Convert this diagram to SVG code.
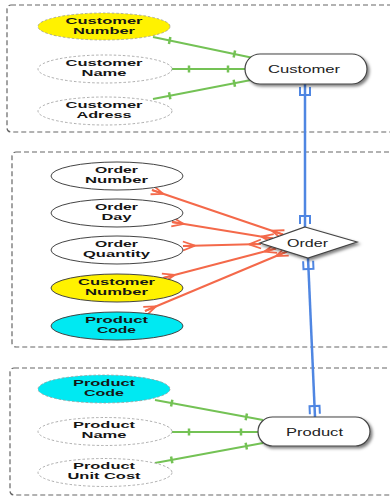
<svg xmlns="http://www.w3.org/2000/svg" width="390" height="497" viewBox="0 0 390 497">
<style>
.box{fill:none;stroke:#666;stroke-width:1.2;stroke-dasharray:5 3}
.attr{font-family:"Liberation Sans",Arial,sans-serif;font-weight:bold;font-size:9.5px;fill:#151515;text-anchor:middle}
.ent{font-family:"Liberation Sans",Arial,sans-serif;font-size:11px;fill:#222;text-anchor:middle}
.dash{fill:#fff;stroke:#999;stroke-width:0.8;stroke-dasharray:2.5 2}
.solid{fill:#fff;stroke:#444;stroke-width:1}
.yel{fill:#fff200}
.cyan{fill:#00e9f2}
.entity{fill:#fff;stroke:#444;stroke-width:1.2;filter:url(#sh)}
.g{stroke:#74c255;stroke-width:2;fill:none;marker-start:url(#gt);marker-end:url(#gt)}
.r{stroke:#f4694a;stroke-width:2;fill:none;marker-start:url(#crow);marker-end:url(#crow)}
.b{stroke:#4f86e2;stroke-width:2.5;fill:none;marker-start:url(#tri);marker-end:url(#tri)}
</style>
<defs>
<filter id="sh" x="-20%" y="-30%" width="140%" height="170%">
<feDropShadow dx="2" dy="2" stdDeviation="1.5" flood-color="#000" flood-opacity="0.5"/>
</filter>
<marker id="gt" markerUnits="userSpaceOnUse" orient="auto-start-reverse" refX="0" refY="0" markerWidth="1" markerHeight="1" overflow="visible">
<path d="M-17,-3.5V3.5" stroke="#74c255" stroke-width="2.5" fill="none"/>
</marker>
<marker id="crow" markerUnits="userSpaceOnUse" orient="auto-start-reverse" refX="0" refY="0" markerWidth="1" markerHeight="1" overflow="visible">
<path d="M-12,0L0,-4.5M-12,0L0,4.5M-12,0L0,0" stroke="#f4694a" stroke-width="1.8" fill="none"/>
</marker>
<marker id="tri" markerUnits="userSpaceOnUse" orient="auto-start-reverse" refX="0" refY="0" markerWidth="1" markerHeight="1" overflow="visible">
<path d="M-3,-5H-11V5H-3" stroke="#4f86e2" stroke-width="2" fill="none"/>
</marker>
</defs>

<g id="groups">
<rect class="box" x="7" y="5" width="390" height="127" rx="4"/>
<rect class="box" x="12" y="152" width="390" height="195" rx="4"/>
<rect class="box" x="10" y="368" width="390" height="127" rx="4"/>
</g>

<g id="connectors">
<path class="g" d="M153,37L251,57.5"/>
<path class="g" d="M172,69L245,69"/>
<path class="g" d="M153,99L251,80"/>
<path class="g" d="M155,400L263,420"/>
<path class="g" d="M172,432L258,432"/>
<path class="g" d="M155,463L263,443"/>
<path class="r" d="M152,190L283,234.5"/>
<path class="r" d="M172,222L273,238.5"/>
<path class="r" d="M183,246L261,244"/>
<path class="r" d="M163,278L276,248.5"/>
<path class="r" d="M145,311L287,251.5"/>
<path class="b" d="M305,84L305,227"/>
<path class="b" d="M308,258L315,417"/>
</g>

<g id="customer-number-1">
<ellipse class="dash yel" cx="104" cy="26.5" rx="66" ry="13.5"/>
<text class="attr" y="23.5"><tspan x="104" textLength="77" lengthAdjust="spacingAndGlyphs">Customer</tspan><tspan x="104" dy="10" textLength="62" lengthAdjust="spacingAndGlyphs">Number</tspan></text>
</g>
<g id="customer-name">
<ellipse class="dash" cx="105" cy="69" rx="67" ry="14"/>
<text class="attr" y="65.5"><tspan x="104" textLength="77" lengthAdjust="spacingAndGlyphs">Customer</tspan><tspan x="104" dy="10" textLength="45" lengthAdjust="spacingAndGlyphs">Name</tspan></text>
</g>
<g id="customer-adress">
<ellipse class="dash" cx="105" cy="111" rx="67" ry="14"/>
<text class="attr" y="107.5"><tspan x="104" textLength="77" lengthAdjust="spacingAndGlyphs">Customer</tspan><tspan x="104" dy="10" textLength="55" lengthAdjust="spacingAndGlyphs">Adress</tspan></text>
</g>
<g id="customer">
<rect class="entity" x="245" y="54" width="122" height="30" rx="15"/>
<text class="ent" x="304" y="73" textLength="72" lengthAdjust="spacingAndGlyphs">Customer</text>
</g>

<g id="order-number">
<ellipse class="solid" cx="117" cy="176" rx="66" ry="14"/>
<text class="attr" y="172.5"><tspan x="116.5" textLength="43" lengthAdjust="spacingAndGlyphs">Order</tspan><tspan x="116.5" dy="10" textLength="63" lengthAdjust="spacingAndGlyphs">Number</tspan></text>
</g>
<g id="order-day">
<ellipse class="solid" cx="117" cy="213" rx="66" ry="14"/>
<text class="attr" y="209.5"><tspan x="116.5" textLength="43" lengthAdjust="spacingAndGlyphs">Order</tspan><tspan x="116.5" dy="10" textLength="30" lengthAdjust="spacingAndGlyphs">Day</tspan></text>
</g>
<g id="order-quantity">
<ellipse class="solid" cx="117" cy="250" rx="66" ry="14"/>
<text class="attr" y="246.5"><tspan x="116.5" textLength="43" lengthAdjust="spacingAndGlyphs">Order</tspan><tspan x="116.5" dy="10" textLength="67" lengthAdjust="spacingAndGlyphs">Quantity</tspan></text>
</g>
<g id="customer-number-2">
<ellipse class="solid yel" cx="117" cy="288" rx="66" ry="14"/>
<text class="attr" y="284.5"><tspan x="116.5" textLength="77" lengthAdjust="spacingAndGlyphs">Customer</tspan><tspan x="116.5" dy="10" textLength="63" lengthAdjust="spacingAndGlyphs">Number</tspan></text>
</g>
<g id="product-code-2">
<ellipse class="solid cyan" cx="117" cy="326" rx="66" ry="14"/>
<text class="attr" y="322.5"><tspan x="116.5" textLength="63" lengthAdjust="spacingAndGlyphs">Product</tspan><tspan x="116.5" dy="10" textLength="39" lengthAdjust="spacingAndGlyphs">Code</tspan></text>
</g>
<g id="order">
<polygon class="entity" points="305,227 357,242 308,258 260,243"/>
<text class="ent" x="307.5" y="246.5" textLength="41" lengthAdjust="spacingAndGlyphs">Order</text>
</g>

<g id="product-code-3">
<ellipse class="dash cyan" cx="104" cy="389" rx="66" ry="14"/>
<text class="attr" y="385.5"><tspan x="104" textLength="62" lengthAdjust="spacingAndGlyphs">Product</tspan><tspan x="104" dy="10" textLength="40" lengthAdjust="spacingAndGlyphs">Code</tspan></text>
</g>
<g id="product-name">
<ellipse class="dash" cx="105" cy="431.5" rx="67" ry="14"/>
<text class="attr" y="428"><tspan x="104" textLength="62" lengthAdjust="spacingAndGlyphs">Product</tspan><tspan x="104" dy="10" textLength="45" lengthAdjust="spacingAndGlyphs">Name</tspan></text>
</g>
<g id="product-unit-cost">
<ellipse class="dash" cx="105" cy="472.5" rx="67" ry="14"/>
<text class="attr" y="469"><tspan x="104" textLength="62" lengthAdjust="spacingAndGlyphs">Product</tspan><tspan x="104" dy="10" textLength="73" lengthAdjust="spacingAndGlyphs">Unit Cost</tspan></text>
</g>
<g id="product">
<rect class="entity" x="258" y="417" width="112" height="29" rx="14.5"/>
<text class="ent" x="314.5" y="436" textLength="57" lengthAdjust="spacingAndGlyphs">Product</text>
</g>
</svg>
